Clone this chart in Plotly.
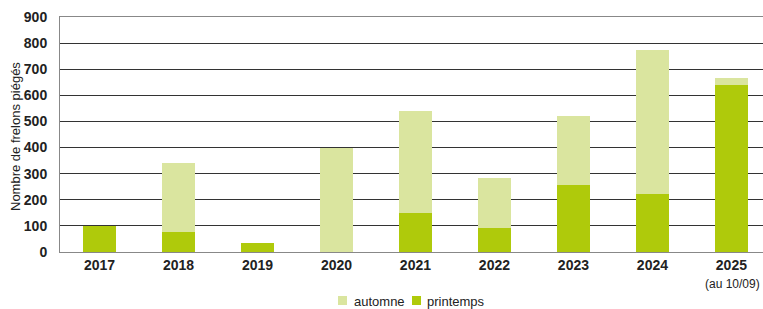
import plotly.graph_objects as go

years = ["2017", "2018", "2019", "2020", "2021", "2022", "2023", "2024", "2025"]
printemps = [100, 77, 35, 0, 150, 93, 257, 222, 640]
automne = [0, 263, 0, 400, 390, 192, 263, 553, 27]
y_ticks = [0, 100, 200, 300, 400, 500, 600, 700, 800, 900]
note_2025 = "(au 10/09)"
y_title = "Nombre de frelons piégés"

C_PRINT = "#AFCA0B"
C_AUT = "#DAE59F"
FONT = "Liberation Sans, Arial, sans-serif"

# plot area geometry (px) used to place paper-referenced decorations
L, R, T, B = 60, 763, 17, 252
W, H = R - L, B - T
px = lambda x: (x - L) / W
py = lambda y: (B - y) / H

fig = go.Figure()
fig.add_trace(go.Bar(x=years, y=printemps, name="printemps",
                     marker=dict(color=C_PRINT, line=dict(width=0)), width=0.42))
fig.add_trace(go.Bar(x=years, y=automne, name="automne",
                     marker=dict(color=C_AUT, line=dict(width=0)), width=0.42))

# note under 2025
fig.add_annotation(x=px(732), y=py(284), xref="paper", yref="paper", text=note_2025,
                   showarrow=False, xanchor="center", yanchor="middle",
                   font=dict(family=FONT, size=12, color="#222"))
# y-axis title
fig.add_annotation(x=px(15), y=py(137), xref="paper", yref="paper", text=y_title,
                   showarrow=False, textangle=-90, xanchor="center", yanchor="middle",
                   font=dict(family=FONT, size=13, color="#222"))

# legend (manual, compact like the original)
legend_items = [("automne", C_AUT, 338, 352), ("printemps", C_PRINT, 412, 425)]
for name, col, sx, tx in legend_items:
    fig.add_shape(type="rect", xref="paper", yref="paper",
                  x0=px(sx), x1=px(sx + 9), y0=py(296), y1=py(305),
                  fillcolor=col, line=dict(width=0))
    fig.add_annotation(x=px(tx), y=py(301), xref="paper", yref="paper", text=name,
                       showarrow=False, xanchor="left", yanchor="middle",
                       font=dict(family=FONT, size=13, color="#222"))

fig.update_layout(
    width=763, height=309,
    barmode="stack",
    plot_bgcolor="white", paper_bgcolor="white",
    margin=dict(l=L, r=763 - R, t=T, b=309 - B, autoexpand=False),
    showlegend=False,
    font=dict(family=FONT, color="#222"),
)
fig.update_xaxes(
    type="category", range=[-0.5, 8.4],
    showgrid=False, showline=True, linecolor="#888", linewidth=1, mirror=True,
    ticks="", automargin=False,
    tickfont=dict(family=FONT, size=14, color="#222", weight="bold"),
)
fig.update_yaxes(
    range=[0, 900], tickvals=y_ticks,
    showgrid=True, gridcolor="#333", gridwidth=1,
    showline=True, linecolor="#888", linewidth=1,
    zeroline=False, ticks="", automargin=False, ticklabelstandoff=9,
    tickfont=dict(family=FONT, size=14, color="#222", weight="bold"),
)

fig.write_html("out.html", config={"displayModeBar": False},
               post_script="document.body.style.margin='0';document.body.style.overflow='hidden';")
